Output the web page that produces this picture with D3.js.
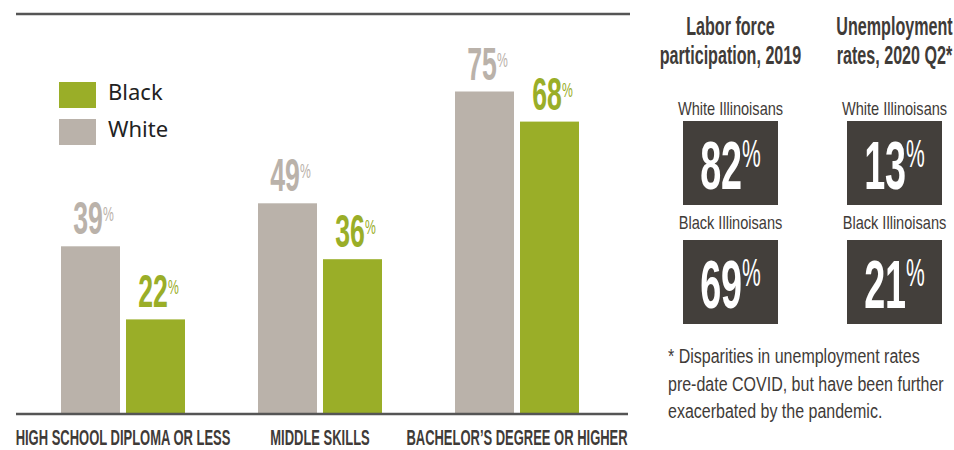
<!DOCTYPE html>
<html lang="en">
<head>
    <meta charset="UTF-8">
    <title>Employment by education and race</title>
    <script src="https://d3js.org/d3.v7.min.js"></script>
    <style>
        body {
            margin: 0;
            padding: 0;
            background-color: #fff;
        }
        svg text {
            font-family: 'Liberation Sans', Arial, sans-serif;
        }
    </style>
</head>
<body>
    <script>
        // Datos
        const categories = ["HIGH SCHOOL DIPLOMA OR LESS", "MIDDLE SKILLS", "BACHELOR\u2019S DEGREE OR HIGHER"];
        const seriesKeys = ["White", "Black"];
        const whiteValues = [39, 49, 75];
        const blackValues = [22, 36, 68];
        const legendKeys = ["Black", "White"];

        const panelTitles = [["Labor force", "participation, 2019"], ["Unemployment", "rates, 2020 Q2*"]];
        const panelGroups = ["White Illinoisans", "Black Illinoisans"];
        const laborForce = [82, 69];
        const unemployment = [13, 21];
        const footnote = ["* Disparities in unemployment rates", "pre-date COVID, but have been further", "exacerbated by the pandemic."];

        const width = 954;
        const height = 450;

        const colors = { White: "#bab2aa", Black: "#9aae28" };
        const dark = "#3f3b38";
        const boxColor = "#433f3b";

        const svg = d3.select("body")
            .append("svg")
            .attr("width", width)
            .attr("height", height);

        // Escalas
        const baseY = 414;
        const x0 = d3.scaleBand()
            .domain(categories)
            .range([24.5, 615.5]);

        const x1 = d3.scaleBand()
            .domain(seriesKeys)
            .range([36.5, 160.5])
            .paddingInner(6 / 65);

        const y = d3.scaleLinear()
            .domain([0, 75])
            .range([baseY, baseY - 75 * 4.3]);

        const rows = categories.map((c, i) => ({
            category: c,
            values: [
                { key: "White", value: whiteValues[i] },
                { key: "Black", value: blackValues[i] }
            ]
        }));

        // texto condensado (escala horizontal)
        function condText(parent, x, yy, sx, anchor) {
            return parent.append("g")
                .attr("transform", `translate(${x},${yy})`)
                .append("text")
                .attr("transform", `scale(${sx},1)`)
                .attr("text-anchor", anchor || "middle");
        }

        function pctText(parent, x, yy, v, size, pctSize, pctDy, sx, fill) {
            const t = condText(parent, x, yy, sx)
                .attr("fill", fill)
                .attr("font-weight", "bold")
                .attr("font-size", size);
            t.append("tspan").text(v);
            t.append("tspan")
                .attr("font-size", pctSize)
                .attr("font-weight", "normal")
                .attr("dy", pctDy)
                .text("%");
            return t;
        }

        // Líneas superior y base
        svg.append("line")
            .attr("x1", 16).attr("x2", 630)
            .attr("y1", 14).attr("y2", 14)
            .attr("stroke", "#555").attr("stroke-width", 2.5);

        // Barras
        const groups = svg.append("g")
            .selectAll("g")
            .data(rows)
            .enter()
            .append("g")
            .attr("transform", d => `translate(${x0(d.category)},0)`);

        groups.selectAll("rect")
            .data(d => d.values)
            .enter()
            .append("rect")
            .attr("x", d => x1(d.key))
            .attr("width", x1.bandwidth())
            .attr("y", d => y(d.value))
            .attr("height", d => baseY - y(d.value))
            .attr("fill", d => colors[d.key]);

        groups.each(function (d) {
            const g = d3.select(this);
            d.values.forEach(v => {
                pctText(g, x1(v.key) + x1.bandwidth() / 2 + 3, y(v.value) - 12,
                    v.value, 46, 21, -13, 0.58, colors[v.key]);
            });
        });

        svg.append("line")
            .attr("x1", 16).attr("x2", 628)
            .attr("y1", baseY).attr("y2", baseY)
            .attr("stroke", "#555").attr("stroke-width", 2.5);

        // Etiquetas de categoría
        categories.forEach(c => {
            condText(svg, x0(c) + x0.bandwidth() / 2, 445, 0.59)
                .attr("font-weight", "bold")
                .attr("font-size", 22)
                .attr("fill", dark)
                .text(c);
        });

        // Leyenda
        const legend = svg.append("g")
            .selectAll("g")
            .data(legendKeys)
            .enter()
            .append("g")
            .attr("transform", (d, i) => `translate(59,${82 + i * 37})`);

        legend.append("rect")
            .attr("width", 37)
            .attr("height", 26)
            .attr("fill", d => colors[d]);

        legend.append("text")
            .attr("x", 49)
            .attr("y", 18)
            .attr("font-size", 22)
            .attr("fill", "#222")
            .style("font-family", "'Noto Sans', sans-serif")
            .text(d => d);

        // Panel derecho
        const colX = [730.5, 894.5];
        const boxW = 95, boxH = 84;
        const boxTop = [121, 240];
        const panelValues = [laborForce, unemployment];

        panelTitles.forEach((lines, ci) => {
            lines.forEach((ln, li) => {
                condText(svg, colX[ci], 35 + li * 29, 0.62)
                    .attr("font-weight", "bold")
                    .attr("font-size", 26)
                    .attr("fill", dark)
                    .text(ln);
            });
            panelGroups.forEach((grp, ri) => {
                condText(svg, colX[ci], boxTop[ri] - (ri === 0 ? 6 : 11), 0.81)
                    .attr("font-size", 18)
                    .attr("fill", dark)
                    .text(grp);
                svg.append("rect")
                    .attr("x", colX[ci] - boxW / 2)
                    .attr("y", boxTop[ri])
                    .attr("width", boxW)
                    .attr("height", boxH)
                    .attr("fill", boxColor);
                pctText(svg, colX[ci], boxTop[ri] + 68, panelValues[ci][ri],
                    68, 38, -22, 0.555, "#fff");
            });
        });

        // Nota
        footnote.forEach((ln, i) => {
            condText(svg, 668, 363 + i * 27.5, 0.8, "start")
                .attr("font-size", 20)
                .attr("fill", dark)
                .text(ln);
        });
    </script>
</body>
</html>
